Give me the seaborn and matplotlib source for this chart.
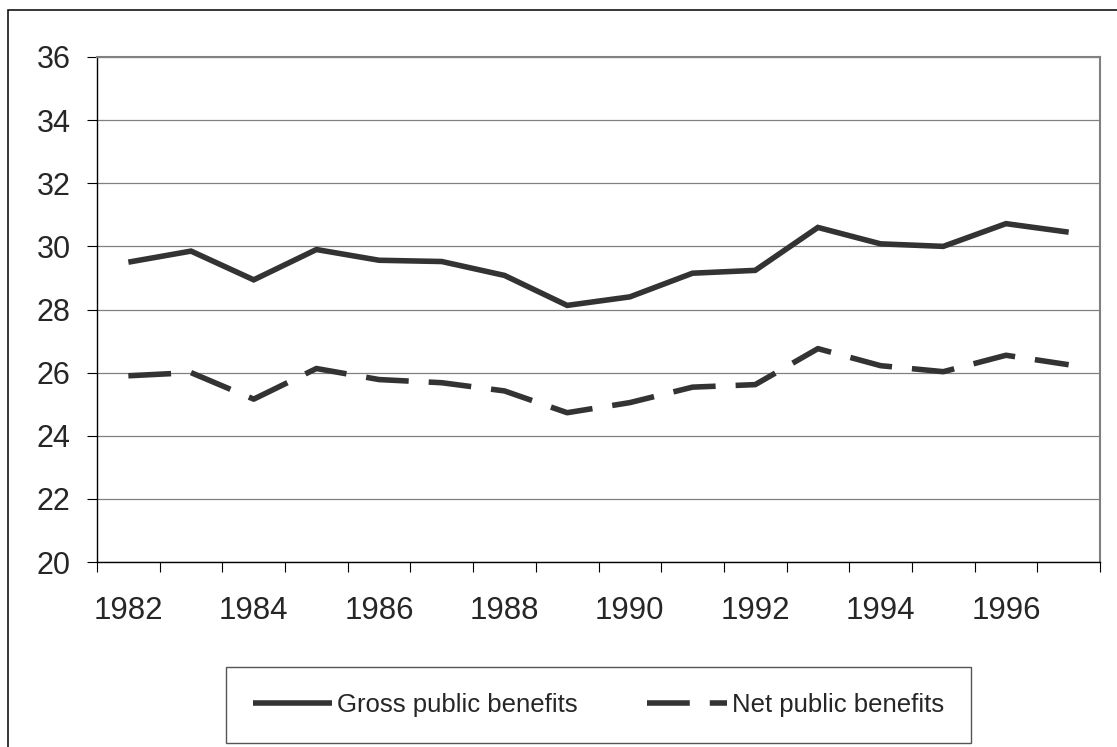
import matplotlib
matplotlib.use("Agg")
import matplotlib.pyplot as plt
import seaborn as sns
import numpy as np
import pandas as pd
from matplotlib.patches import Rectangle
from matplotlib.ticker import FixedLocator

# Public benefits as a share, 1982-1997
years = list(range(1982, 1998))
gross = [29.5, 29.85, 28.94, 29.9, 29.56, 29.52, 29.08, 28.13,
         28.4, 29.15, 29.24, 30.6, 30.08, 30.0, 30.72, 30.45]
net = [25.9, 26.0, 25.16, 26.13, 25.78, 25.68, 25.42, 24.73,
       25.05, 25.54, 25.62, 26.76, 26.22, 26.03, 26.55, 26.25]
series_labels = ["Gross public benefits", "Net public benefits"]
year_labels = [str(y) for y in range(1982, 1997, 2)]
y_ticks = list(range(20, 37, 2))

sns.set_style("white")
plt.rcParams["font.family"] = ["Liberation Sans", "DejaVu Sans"]

W, H = 1117, 747
fig = plt.figure(figsize=(W / 100, H / 100), dpi=100)
ax = fig.add_axes([97 / W, 1 - 562 / H, (1100 - 97) / W, (562 - 57) / H])

df = pd.DataFrame({"year": years, "gross": gross, "net": net})
line_color = "#333333"
sns.lineplot(data=df, x="year", y="gross", ax=ax, color=line_color,
             lw=4.0, label=series_labels[0], legend=False)
sns.lineplot(data=df, x="year", y="net", ax=ax, color=line_color,
             lw=4.0, label=series_labels[1], legend=False)
lines = ax.get_lines()
for ln in lines:
    ln.set_solid_capstyle("butt")
    ln.set_solid_joinstyle("miter")
lines[1].set_dashes((7.7, 3.6))
lines[1].set_dash_capstyle("butt")

# Axes ranges and ticks (category-style x axis)
ax.set_xlim(1981.5, 1997.5)
ax.set_ylim(20, 36)
ax.set_xticks(range(1982, 1997, 2))
ax.set_xticklabels(year_labels)
ax.xaxis.set_minor_locator(FixedLocator(np.arange(1981.5, 1998, 1)))
ax.set_yticks(y_ticks)
ax.set_xlabel("")
ax.set_ylabel("")

ax.tick_params(axis="x", which="major", length=0, pad=24.5, labelsize=22.5)
ax.tick_params(axis="x", which="minor", length=7.5, width=0.8,
               direction="out", color="black", bottom=True)
ax.tick_params(axis="y", which="major", length=7, width=0.8,
               direction="out", color="black", left=True, pad=12, labelsize=22)

ax.yaxis.grid(True, color="#808080", lw=0.9)
ax.xaxis.grid(False)
ax.set_axisbelow(True)

for side in ("left", "bottom"):
    ax.spines[side].set_color("black")
    ax.spines[side].set_linewidth(1.0)
for side in ("top", "right"):
    ax.spines[side].set_color("#808080")
    ax.spines[side].set_linewidth(1.5)

# Outer chart frame
fig.add_artist(Rectangle((8 / W, -0.1), 1.2, 1 - 10 / H + 0.1,
                         transform=fig.transFigure, fill=False,
                         ec="black", lw=1.1))

leg = fig.legend(handles=lines[:2], labels=series_labels, loc="center",
                 bbox_to_anchor=(598.5 / W, 1 - 705 / H), ncol=2,
                 fontsize=18.5, frameon=True, fancybox=False,
                 edgecolor="#555555", framealpha=1, handlelength=3.1,
                 handletextpad=0.2, columnspacing=2.7, borderpad=1.02)
leg.get_frame().set_linewidth(1.0)

fig.savefig("out.png", dpi=100)
